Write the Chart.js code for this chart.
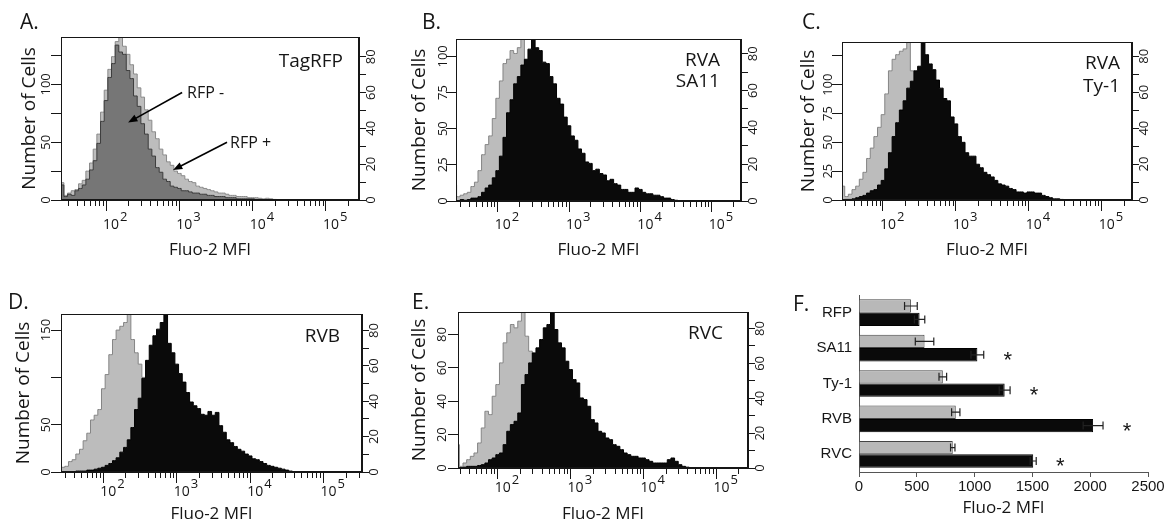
<!DOCTYPE html>
<html>
<head>
<meta charset="utf-8">
<title>Fluo-2 MFI histograms</title>
<script src="https://cdn.jsdelivr.net/npm/chart.js@4.4.1/dist/chart.umd.min.js"></script>
<style>
  html, body { margin: 0; padding: 0; background: #fff; }
  #page { position: relative; width: 1168px; height: 525px; overflow: hidden;
          font-family: "Open Sans", "DejaVu Sans", sans-serif; color: #161616; }
  canvas { position: absolute; }
  .lbl { position: absolute; line-height: 1; white-space: nowrap; }
  .letter { font-size: 21px; }
  .tag { font-size: 19px; width: 120px; text-align: right; }
  .note { font-size: 16px; }
</style>
</head>
<body>
<div id="page">
  <canvas id="chart-a" width="390" height="262" style="left:0;top:0"></canvas>
  <canvas id="chart-b" width="390" height="262" style="left:390px;top:0"></canvas>
  <canvas id="chart-c" width="388" height="262" style="left:780px;top:0"></canvas>
  <canvas id="chart-d" width="390" height="262" style="left:0;top:263px"></canvas>
  <canvas id="chart-e" width="390" height="262" style="left:390px;top:263px"></canvas>
  <canvas id="chart-f" width="388" height="262" style="left:780px;top:263px"></canvas>

  <div class="lbl letter" style="left:20px;top:11px">A.</div>
  <div class="lbl letter" style="left:422px;top:11px">B.</div>
  <div class="lbl letter" style="left:802px;top:11px">C.</div>
  <div class="lbl letter" style="left:8px;top:291px">D.</div>
  <div class="lbl letter" style="left:412px;top:291px">E.</div>
  <div class="lbl letter" style="left:793px;top:293px">F.</div>

  <div class="lbl tag" style="left:223px;top:51px">TagRFP</div>
  <div class="lbl tag" style="left:600px;top:50px">RVA</div>
  <div class="lbl tag" style="left:600px;top:71px">SA11</div>
  <div class="lbl tag" style="left:1000px;top:53px">RVA</div>
  <div class="lbl tag" style="left:1000px;top:76px">Ty-1</div>
  <div class="lbl tag" style="left:220px;top:326px">RVB</div>
  <div class="lbl tag" style="left:603px;top:323px">RVC</div>

  <div class="lbl note" style="left:187px;top:84px">RFP -</div>
  <div class="lbl note" style="left:230px;top:134px">RFP +</div>
</div>

<script>
// histogram bin centres (Fluo-2 MFI, 1/20 decade)
const fluoBins = [25.1, 28.2, 31.6, 35.5, 39.8, 44.7, 50.1, 56.2, 63.1, 70.8,
  79.4, 89.1, 100, 112, 126, 141, 158, 178, 200, 224,
  251, 282, 316, 355, 398, 447, 501, 562, 631, 708,
  794, 891, 1000, 1122, 1259, 1413, 1585, 1778, 1995, 2239,
  2512, 2818, 3162, 3548, 3981, 4467, 5012, 5623, 6310, 7079,
  7943, 8913, 10000, 11220, 12589, 14125, 15849, 17783, 19953, 22387,
  25119, 28184, 31623, 35481, 39811, 44668];

// A. TagRFP
const tagRfpNeg = [13, 3, 5, 4, 8, 10, 13, 18, 26, 34,
  49, 68, 86, 106, 118, 134, 128, 126, 112, 105,
  90, 81, 66, 57, 44, 38, 28, 24, 18, 16,
  12, 11, 10, 8, 8, 7, 6, 6, 5, 5,
  4, 4, 3, 3, 3, 2, 2, 2, 1, 1,
  1, 1, 1, 0.5, 0.5, 0, 0, 0, 0, 0,
  0, 0, 0, 0, 0, 0];
const tagRfpPos = [15, 4, 6, 8, 9, 14, 17, 25, 32, 44,
  57, 76, 95, 113, 124, 137, 143, 133, 126, 117,
  109, 97, 89, 78, 69, 59, 53, 44, 39, 33,
  30, 25, 23, 21, 18, 16, 15, 12, 11, 10,
  9, 8, 7, 6, 6, 5, 4, 4, 3, 3,
  3, 2, 2, 2, 1.5, 1, 1.5, 1, 0.5, 0,
  0, 0, 0, 0, 0, 0];

// B. RVA SA11
const sa11Mock = [11, 3, 4, 5, 6, 10, 13, 21, 32, 39,
  45, 57, 71, 83, 95, 98, 104, 102, 106, 114,
  88, 72, 57, 47, 37, 30, 25, 20, 17, 14,
  12, 10, 9, 8, 7, 6, 6, 5, 5, 4,
  4, 3, 3, 3, 2, 2, 2, 2, 1, 1,
  1, 1, 1, 0.5, 0, 0, 0, 0, 0, 0,
  0, 0, 0, 0, 0, 0];
const sa11Virus = [0, 0, 1, 0.5, 1, 2, 2, 3, 6, 9,
  11, 16, 21, 31, 44, 61, 70, 81, 86, 94,
  98, 105, 117, 106, 104, 96, 95, 86, 81, 71,
  67, 58, 52, 45, 42, 36, 33, 27, 26, 21,
  22, 19, 18, 14, 15, 12, 11, 8, 8, 6,
  6, 9, 8, 6, 5, 5, 4, 4, 3, 2,
  2, 1, 0.5, 0, 0, 0];

// C. RVA Ty-1
const ty1Mock = [12, 12, 3, 5, 9, 12, 18, 24, 36, 45,
  55, 63, 74, 92, 112, 122, 126, 129, 131, 140,
  112, 100, 86, 72, 60, 50, 41, 33, 27, 22,
  18, 15, 13, 11, 9, 8, 7, 6, 5, 5,
  4, 4, 3, 3, 2, 2, 2, 1, 1, 1,
  1, 0.5, 0, 0, 0, 0, 0, 0, 0, 0,
  0, 0, 0, 0, 0, 0];
const ty1Virus = [0, 0, 0.5, 0.5, 1, 2, 3, 4, 6, 8,
  9, 13, 17, 27, 41, 55, 67, 78, 86, 97,
  103, 112, 116, 140, 126, 118, 113, 104, 97, 88,
  86, 72, 66, 55, 50, 41, 38, 38, 31, 28,
  24, 22, 20, 17, 14, 13, 12, 10, 9, 7,
  7, 6, 7, 7, 6, 6, 4, 3, 2, 1,
  1, 0.5, 0, 0, 0, 0];

// D. RVB
const rvbMock = [26, 5, 6, 11, 13, 19, 24, 33, 41, 55,
  60, 66, 88, 103, 124, 140, 150, 154, 158, 170,
  140, 126, 114, 100, 86, 72, 60, 50, 41, 34,
  28, 23, 19, 16, 13, 11, 9, 8, 7, 6,
  5, 4, 4, 3, 3, 2, 2, 2, 1, 1,
  1, 0.5, 0, 0, 0, 0, 0, 0, 0, 0,
  0, 0, 0, 0, 0, 0];
const rvbVirus = [0, 0, 0, 0.5, 0.5, 1, 1, 1, 2, 2,
  3, 4, 5, 7, 9, 12, 15, 21, 26, 34,
  47, 66, 78, 99, 118, 134, 144, 151, 158, 170,
  136, 126, 114, 104, 95, 84, 74, 70, 67, 61,
  60, 64, 60, 63, 49, 42, 34, 31, 27, 24,
  22, 19, 17, 14, 13, 11, 9, 7, 6, 5,
  4, 3, 2, 1, 0.5, 0];

// E. RVC
const rvcMock = [14, 14, 1, 3, 5, 7, 9, 15, 24, 34,
  32, 43, 50, 63, 75, 81, 86, 84, 88, 96,
  79, 70, 62, 54, 45, 38, 32, 26, 22, 18,
  15, 13, 11, 9, 8, 7, 6, 5, 4, 4,
  3, 3, 2, 2, 2, 1, 1, 1, 1, 0.5,
  0, 0, 0, 0, 0, 0, 0, 0, 0, 0,
  0, 0, 0, 0, 0, 0];
const rvcVirus = [0, 0, 0, 0.5, 1, 1, 1, 1.5, 2, 3,
  5, 6, 8, 9, 14, 22, 26, 28, 33, 50,
  56, 63, 69, 72, 77, 84, 86, 96, 83, 75,
  72, 64, 59, 53, 51, 42, 41, 37, 29, 27,
  22, 21, 18, 17, 14, 13, 11, 9, 8, 7,
  7, 6, 6, 5, 4, 3, 3, 3, 3, 5,
  6, 4, 2, 1, 0.5, 0];

// x axis decades
const decadeTicks = [100, 1000, 10000, 100000];
const decadeExponents = ["2", "3", "4", "5"];

// right-hand axis (same on every histogram)
const rightTicks = [0, 10, 20, 30, 40, 50, 60, 70, 80];
const rightLabels = ["0", "", "20", "", "40", "", "60", "", "80"];

// F. bar summary
const virusNames = ["RFP", "SA11", "Ty-1", "RVB", "RVC"];
const mockMfi = [449, 567, 725, 837, 811];
const mockErr = [55, 80, 33, 36, 19];
const virusMfi = [524, 1024, 1260, 2025, 1507];
const virusErr = [45, 55, 47, 86, 26];
const significant = [false, true, true, true, true];
const mfiTicks = [0, 500, 1000, 1500, 2000, 2500];

const FONT = '"Open Sans", "DejaVu Sans", sans-serif';
const ARIAL = '"Liberation Sans", Arial, sans-serif';
const INK = "#161616";

function textWidth(text, size, family) {
  const ctx = document.createElement("canvas").getContext("2d");
  ctx.font = `${size}px ${family}`;
  return ctx.measureText(text).width;
}

// padding so that rotated labels sit `gap` px from the frame
function crossPadding(labels, size, gap, tickLen) {
  const widest = Math.max(...labels.map((l) => textWidth(l, size, FONT)));
  return gap - tickLen - widest / 2;
}

const histDecor = {
  id: "histDecor",
  afterDraw(chart, args, opts) {
    const { ctx, chartArea: a } = chart;
    const xs = chart.scales.x;
    const ys = chart.scales.y;
    ctx.save();
    ctx.strokeStyle = INK;
    ctx.lineWidth = 1;
    ctx.strokeRect(Math.round(a.left) + 0.5, Math.round(a.top) + 0.5,
      Math.round(a.right - a.left) - 1, Math.round(a.bottom - a.top) - 1);

    ctx.beginPath();
    for (let d = 1; d <= 5; d++) {
      for (let m = 2; m <= 9; m++) {
        const v = m * Math.pow(10, d);
        if (v <= xs.min || v >= xs.max) continue;
        const px = Math.round(xs.getPixelForValue(v)) + 0.5;
        ctx.moveTo(px, a.bottom);
        ctx.lineTo(px, a.bottom + 6);
      }
    }
    ctx.stroke();

    ctx.fillStyle = INK;
    ctx.textAlign = "left";
    ctx.textBaseline = "alphabetic";
    decadeTicks.forEach((v, i) => {
      const px = xs.getPixelForValue(v);
      const y = a.bottom + opts.labelDrop;
      ctx.font = `14px ${FONT}`;
      ctx.fillText("10", px - 3, y);
      const w = ctx.measureText("10").width;
      ctx.font = `13px ${FONT}`;
      ctx.fillText(decadeExponents[i], px - 2 + w, y - 8);
    });

    (opts.arrows || []).forEach((ar) => {
      const x0 = xs.getPixelForValue(ar.from[0]);
      const y0 = ys.getPixelForValue(ar.from[1]);
      const x1 = xs.getPixelForValue(ar.to[0]);
      const y1 = ys.getPixelForValue(ar.to[1]);
      const ang = Math.atan2(y1 - y0, x1 - x0);
      ctx.strokeStyle = "#000";
      ctx.fillStyle = "#000";
      ctx.lineWidth = 1.6;
      ctx.beginPath();
      ctx.moveTo(x0, y0);
      ctx.lineTo(x1 - 6 * Math.cos(ang), y1 - 6 * Math.sin(ang));
      ctx.stroke();
      ctx.beginPath();
      ctx.moveTo(x1, y1);
      ctx.lineTo(x1 - 10 * Math.cos(ang - 0.38), y1 - 10 * Math.sin(ang - 0.38));
      ctx.lineTo(x1 - 10 * Math.cos(ang + 0.38), y1 - 10 * Math.sin(ang + 0.38));
      ctx.closePath();
      ctx.fill();
    });
    ctx.restore();
  }
};

function histSeries(values, fill, line) {
  return {
    data: fluoBins.map((x, i) => ({ x, y: values[i] })),
    backgroundColor: fill,
    borderColor: line,
    borderWidth: 1,
    fill: "origin",
    stepped: "middle",
    pointRadius: 0
  };
}

function makeHistogram(id, spec) {
  const { frame, box } = spec;
  const leftPad = crossPadding(spec.leftLabels, 13, spec.leftGap, 10);
  const rightPad = crossPadding(rightLabels, 13, 12.5, 7);
  return new Chart(document.getElementById(id), {
    type: "line",
    data: { datasets: spec.series },
    options: {
      responsive: false,
      animation: false,
      events: [],
      layout: { padding: { top: box.top - frame.y, left: 0, right: 0, bottom: 0 } },
      plugins: {
        legend: { display: false },
        tooltip: { enabled: false },
        histDecor: { labelDrop: spec.labelDrop, arrows: spec.arrows || [] }
      },
      scales: {
        x: {
          type: "logarithmic",
          min: spec.xMin,
          max: spec.xMax,
          afterBuildTicks: (s) => { s.ticks = decadeTicks.map((v) => ({ value: v })); },
          afterFit: (s) => { s.height = frame.y + frame.h - box.bottom; },
          ticks: { display: false },
          grid: { drawOnChartArea: false, tickLength: 11, color: INK, tickColor: INK },
          border: { color: INK, width: 1 },
          title: {
            display: true, text: "Fluo-2 MFI", color: INK,
            font: { family: FONT, size: 17 },
            padding: { top: 0, bottom: spec.xTitlePad }
          }
        },
        y: {
          position: "left",
          min: 0,
          max: spec.yMax,
          afterBuildTicks: (s) => { s.ticks = spec.leftTicks.map((v) => ({ value: v })); },
          afterFit: (s) => { s.width = box.left - frame.x; },
          ticks: {
            callback: (v, i) => spec.leftLabels[i],
            autoSkip: false, minRotation: 90, maxRotation: 90,
            crossAlign: "center", padding: leftPad,
            font: { family: FONT, size: 13 }, color: INK
          },
          grid: { drawOnChartArea: false, tickLength: 10, color: INK, tickColor: INK },
          border: { color: INK, width: 1 },
          title: {
            display: true, text: "Number of Cells", color: INK,
            font: { family: FONT, size: 19 },
            padding: { top: spec.yTitleX - 11.4, bottom: 0 }
          }
        },
        y2: {
          position: "right",
          min: 0,
          max: spec.y2Max,
          afterBuildTicks: (s) => { s.ticks = rightTicks.map((v) => ({ value: v })); },
          afterFit: (s) => { s.width = frame.x + frame.w - box.right; },
          ticks: {
            callback: (v, i) => rightLabels[i],
            autoSkip: false, minRotation: 90, maxRotation: 90,
            crossAlign: "center", padding: rightPad,
            font: { family: FONT, size: 13 }, color: INK
          },
          grid: { drawOnChartArea: false, tickLength: 7, color: INK, tickColor: INK },
          border: { color: INK, width: 1 }
        }
      }
    },
    plugins: [histDecor]
  });
}

const MOCK_FILL = "#bcbcbc";
const MOCK_LINE = "#858585";
const VIRUS_FILL = "#0a0a0a";

makeHistogram("chart-a", {
  frame: { x: 0, y: 0, w: 390, h: 262 },
  box: { left: 61, right: 359, top: 37, bottom: 200 },
  xMin: 24.3, xMax: 282000, yMax: 141, y2Max: 91,
  leftTicks: [0, 25, 50, 75, 100, 125],
  leftLabels: ["0", "", "50", "", "100", ""],
  leftGap: 14.5, yTitleX: 30, labelDrop: 29, xTitlePad: 1.8,
  arrows: [{ from: [1090, 93], to: [200, 67] }, { from: [4470, 50], to: [820, 26] }],
  series: [
    histSeries(tagRfpNeg, "#767676", "#3c3c3c"),
    histSeries(tagRfpPos, "#bdbdbd", "#8a8a8a")
  ]
});

makeHistogram("chart-b", {
  frame: { x: 390, y: 0, w: 390, h: 262 },
  box: { left: 456, right: 741, top: 39, bottom: 201 },
  xMin: 26.1, xMax: 257000, yMax: 112, y2Max: 88,
  leftTicks: [0, 25, 50, 75, 100],
  leftLabels: ["0", "25", "50", "75", "100"],
  leftGap: 12.5, yTitleX: 30, labelDrop: 28, xTitlePad: 1.8,
  series: [
    histSeries(sa11Virus, VIRUS_FILL, "#000"),
    histSeries(sa11Mock, MOCK_FILL, MOCK_LINE)
  ]
});

makeHistogram("chart-c", {
  frame: { x: 780, y: 0, w: 388, h: 262 },
  box: { left: 842, right: 1132, top: 42, bottom: 200 },
  xMin: 27.4, xMax: 260000, yMax: 137, y2Max: 88,
  leftTicks: [0, 25, 50, 75, 100, 125],
  leftLabels: ["0", "25", "50", "75", "100", ""],
  leftGap: 13.5, yTitleX: 28.5, labelDrop: 29, xTitlePad: 1.8,
  series: [
    histSeries(ty1Virus, VIRUS_FILL, "#000"),
    histSeries(ty1Mock, MOCK_FILL, MOCK_LINE)
  ]
});

makeHistogram("chart-d", {
  frame: { x: 0, y: 263, w: 390, h: 262 },
  box: { left: 61, right: 362, top: 314, bottom: 472 },
  xMin: 26.5, xMax: 334000, yMax: 167, y2Max: 89.3,
  leftTicks: [0, 50, 100, 150],
  leftLabels: ["0", "50", "", "150"],
  leftGap: 14.5, yTitleX: 23.5, labelDrop: 24, xTitlePad: 0.8,
  series: [
    histSeries(rvbVirus, VIRUS_FILL, "#000"),
    histSeries(rvbMock, MOCK_FILL, MOCK_LINE)
  ]
});

makeHistogram("chart-e", {
  frame: { x: 390, y: 263, w: 390, h: 262 },
  box: { left: 458, right: 748, top: 312, bottom: 468 },
  xMin: 28.6, xMax: 270000, yMax: 93.5, y2Max: 89.5,
  leftTicks: [0, 20, 40, 60, 80],
  leftLabels: ["0", "20", "40", "60", "80"],
  leftGap: 16, yTitleX: 30, labelDrop: 24, xTitlePad: 0.8,
  series: [
    histSeries(rvcVirus, VIRUS_FILL, "#000"),
    histSeries(rvcMock, MOCK_FILL, MOCK_LINE)
  ]
});

// F. error bars and significance stars
const errorBars = {
  id: "errorBars",
  afterDatasetsDraw(chart) {
    const { ctx } = chart;
    const xs = chart.scales.x;
    const errs = [mockErr, virusErr];
    ctx.save();
    ctx.strokeStyle = "#222";
    ctx.lineWidth = 1.2;
    errs.forEach((errList, di) => {
      const values = chart.data.datasets[di].data;
      chart.getDatasetMeta(di).data.forEach((bar, i) => {
        const lo = xs.getPixelForValue(values[i] - errList[i]);
        const hi = xs.getPixelForValue(values[i] + errList[i]);
        const y = bar.y;
        ctx.beginPath();
        ctx.moveTo(lo, y); ctx.lineTo(hi, y);
        ctx.moveTo(lo, y - 4); ctx.lineTo(lo, y + 4);
        ctx.moveTo(hi, y - 4); ctx.lineTo(hi, y + 4);
        ctx.stroke();
      });
    });
    ctx.fillStyle = INK;
    ctx.font = `22px ${ARIAL}`;
    ctx.textAlign = "center";
    ctx.textBaseline = "middle";
    chart.getDatasetMeta(1).data.forEach((bar, i) => {
      if (!significant[i]) return;
      const x = xs.getPixelForValue(virusMfi[i] + virusErr[i]) + 24;
      ctx.fillText("*", x, bar.y + 6);
    });
    ctx.restore();
  }
};

const frameF = { x: 780, y: 263, w: 388, h: 262 };
const boxF = { left: 859, right: 1148, top: 295, bottom: 472 };

new Chart(document.getElementById("chart-f"), {
  type: "bar",
  data: {
    labels: virusNames,
    datasets: [
      { label: "Mock", data: mockMfi, backgroundColor: "#b8b8b8", borderColor: "#444",
        borderWidth: 1, barPercentage: 1, categoryPercentage: 0.755 },
      { label: "Virus", data: virusMfi, backgroundColor: VIRUS_FILL, borderColor: "#000",
        borderWidth: 1, barPercentage: 1, categoryPercentage: 0.755 }
    ]
  },
  options: {
    indexAxis: "y",
    responsive: false,
    animation: false,
    events: [],
    layout: { padding: { top: boxF.top - frameF.y, right: frameF.x + frameF.w - boxF.right, left: 0, bottom: 0 } },
    plugins: { legend: { display: false }, tooltip: { enabled: false } },
    scales: {
      x: {
        min: 0,
        max: 2500,
        afterBuildTicks: (s) => { s.ticks = mfiTicks.map((v) => ({ value: v })); },
        afterFit: (s) => { s.height = frameF.y + frameF.h - boxF.bottom; },
        ticks: { callback: (v) => String(v), font: { family: ARIAL, size: 15 }, color: INK, padding: 1 },
        grid: { drawOnChartArea: false, tickLength: 5, color: "#555", tickColor: "#555" },
        border: { color: "#555", width: 1 },
        title: {
          display: true, text: "Fluo-2 MFI", color: INK,
          font: { family: FONT, size: 17 },
          padding: { top: 0, bottom: 6.8 }
        }
      },
      y: {
        afterFit: (s) => { s.width = boxF.left - frameF.x; },
        ticks: { font: { family: ARIAL, size: 15 }, color: INK, padding: 7 },
        grid: { display: false, drawTicks: false },
        border: { color: "#555", width: 1 }
      }
    }
  },
  plugins: [errorBars]
});
</script>
</body>
</html>
